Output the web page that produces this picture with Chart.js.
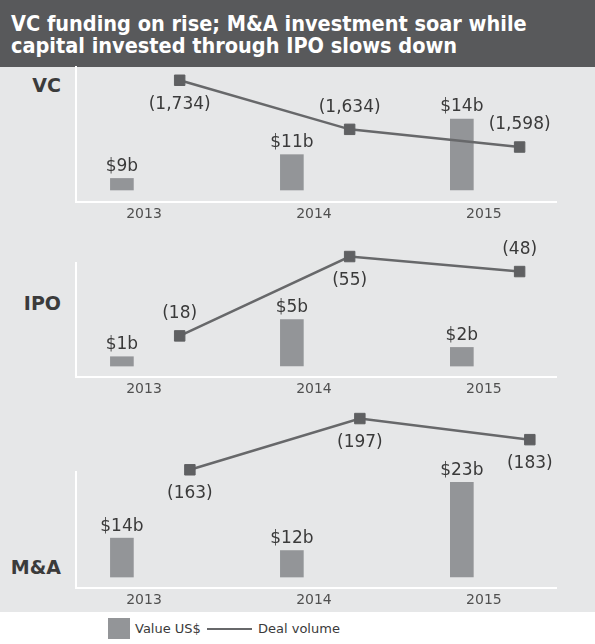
<!DOCTYPE html>
<html><head><meta charset="utf-8">
<script src="https://cdn.jsdelivr.net/npm/chart.js@4.4.1/dist/chart.umd.min.js"></script>
<style>
html,body{margin:0;padding:0;}
body{width:595px;height:644px;position:relative;background:#e6e7e8;overflow:hidden;font-family:"DejaVu Sans",sans-serif;}
#title{position:absolute;left:0;top:0;width:595px;height:67px;background:#58595b;color:#fff;font:bold 21.5px "DejaVu Sans Condensed","DejaVu Sans",sans-serif;line-height:22px;padding:13px 0 0 11px;box-sizing:border-box;white-space:nowrap;}
.plabel{position:absolute;left:0;width:61px;text-align:right;font:bold 19px "DejaVu Sans",sans-serif;color:#3b3b3b;line-height:20px;}
#legend{position:absolute;left:0;top:612px;width:595px;height:32px;background:#fff;}
#legend span{position:absolute;}
.ltext{top:8px;font:13px "DejaVu Sans",sans-serif;color:#3a3a3a;line-height:18px;white-space:nowrap;}
canvas{position:absolute;left:0;top:0;}
</style>
</head>
<body>
<div id="title">VC funding on rise; M&amp;A investment soar while<br>capital invested through IPO slows down</div>
<div id="legend">
  <span style="left:108px;top:6px;width:22px;height:21px;background:#939598"></span>
  <span class="ltext" style="left:135px">Value US$</span>
  <span style="left:207px;top:16px;width:45px;height:2px;background:#67686a"></span>
  <span class="ltext" style="left:258px">Deal volume</span>
</div>
<div class="plabel" style="top:75px">VC</div>
<div class="plabel" style="top:293px">IPO</div>
<div class="plabel" style="top:557px">M&amp;A</div>
<canvas id="cVC" width="595" height="644"></canvas>
<canvas id="cIPO" width="595" height="644"></canvas>
<canvas id="cMA" width="595" height="644"></canvas>
<script>
// ---- data ----
const years = ['2013', '2014', '2015'];
const vcValue = [9, 11, 14];        // US$ b
const vcDeals = [1734, 1634, 1598]; // deal volume
const ipoValue = [1, 5, 2];
const ipoDeals = [18, 55, 48];
const maValue = [14, 12, 23];
const maDeals = [163, 197, 183];

// ---- layout / styling ----
const BAR_OFFSET = -0.13;
const BAR_COLOR = '#939598';
const LINE_COLOR = '#67686a';
const MARK_COLOR = '#5f6062';
const panels = [
  { id: 'cVC', value: vcValue, deals: vcDeals, areaTop: 67, axisTop: 67, bottom: 202,
    bar: { min: 7.02, max: 18.37, base: 8.03 }, line: { min: 1486, max: 1761 },
    lineOffset: 0.21, dealPos: ['below', 'above', 'above'] },
  { id: 'cIPO', value: ipoValue, deals: ipoDeals, areaTop: 232, axisTop: 263, bottom: 377,
    bar: { min: -1.18, max: 11.08, base: 0 }, line: { min: -1.16, max: 66.44 },
    lineOffset: 0.21, dealPos: ['above', 'below', 'above'] },
  { id: 'cMA', value: maValue, deals: maDeals, areaTop: 404, axisTop: 472, bottom: 588,
    bar: { min: 5.97, max: 24.65, base: 7.74 }, line: { min: 84.56, max: 206.66 },
    lineOffset: 0.27, dealPos: ['below', 'below', 'below'] }
];

function labelPlugin(p) {
  return {
    id: 'labels_' + p.id,
    afterDatasetsDraw(chart) {
      const ctx = chart.ctx;
      ctx.save();
      ctx.fillStyle = '#3a3a3a';
      ctx.font = '17px "DejaVu Sans", sans-serif';
      ctx.textAlign = 'center';
      ctx.textBaseline = 'middle';
      chart.getDatasetMeta(1).data.forEach((el, i) => {
        ctx.fillText('$' + p.value[i] + 'b', el.x, el.y - 12);
      });
      chart.getDatasetMeta(0).data.forEach((el, i) => {
        const dy = p.dealPos[i] === 'above' ? -22 : 24;
        ctx.fillText('(' + p.deals[i].toLocaleString('en-US') + ')', el.x, el.y + dy);
      });
      ctx.restore();
    }
  };
}

panels.forEach(p => {
  const spacerWeight = Math.max(p.axisTop - p.areaTop, 0.001);
  const barWeight = p.bottom - p.axisTop;
  new Chart(document.getElementById(p.id), {
    type: 'bar',
    data: {
      datasets: [
        {
          type: 'line',
          data: p.deals.map((v, i) => ({ x: i + p.lineOffset, y: v })),
          yAxisID: 'yLine',
          borderColor: LINE_COLOR,
          borderWidth: 2.5,
          pointStyle: 'rect',
          pointRadius: 7.4,
          pointBackgroundColor: MARK_COLOR,
          pointBorderColor: MARK_COLOR,
          pointBorderWidth: 1,
          tension: 0,
          order: 0,
          clip: false
        },
        {
          type: 'bar',
          data: p.value.map((v, i) => ({ x: i + BAR_OFFSET, y: v })),
          yAxisID: 'yBar',
          backgroundColor: BAR_COLOR,
          barThickness: 23,
          base: p.bar.base,
          order: 1,
          clip: false
        }
      ]
    },
    options: {
      responsive: false,
      animation: false,
      devicePixelRatio: 1,
      events: [],
      layout: { padding: { left: 76, right: 39, top: p.areaTop, bottom: 644 - 20 - p.bottom } },
      plugins: { legend: { display: false }, tooltip: { enabled: false } },
      scales: {
        x: {
          type: 'linear', min: -0.4, max: 2.424, bounds: 'data', offset: false,
          grid: { display: false, drawTicks: false, offset: false },
          border: { display: true, color: '#ffffff', width: 2 },
          ticks: { color: '#505050', font: { family: 'DejaVu Sans', size: 14 }, padding: 4,
                   autoSkip: false, maxRotation: 0,
                   callback: (v) => years[v] !== undefined ? years[v] : '' },
          afterBuildTicks: (s) => { s.ticks = years.map((_, i) => ({ value: i })); },
          afterFit: (s) => { s.height = 20; }
        },
        yBar: {
          type: 'linear', position: 'left', stack: 'left', stackWeight: barWeight,
          min: p.bar.min, max: p.bar.max, bounds: 'data',
          grid: { display: false, drawTicks: false },
          border: { display: true, color: '#ffffff', width: 2 },
          ticks: { display: false },
          afterFit: (s) => { s.width = 0; }
        },
        ySpace: {
          type: 'linear', position: 'left', stack: 'left', stackWeight: spacerWeight,
          min: 0, max: 1,
          grid: { display: false, drawTicks: false },
          border: { display: false },
          ticks: { display: false },
          afterFit: (s) => { s.width = 0; }
        },
        yLine: {
          type: 'linear', position: 'right', display: false,
          min: p.line.min, max: p.line.max, bounds: 'data'
        }
      }
    },
    plugins: [labelPlugin(p)]
  });
});
</script>
</body></html>
